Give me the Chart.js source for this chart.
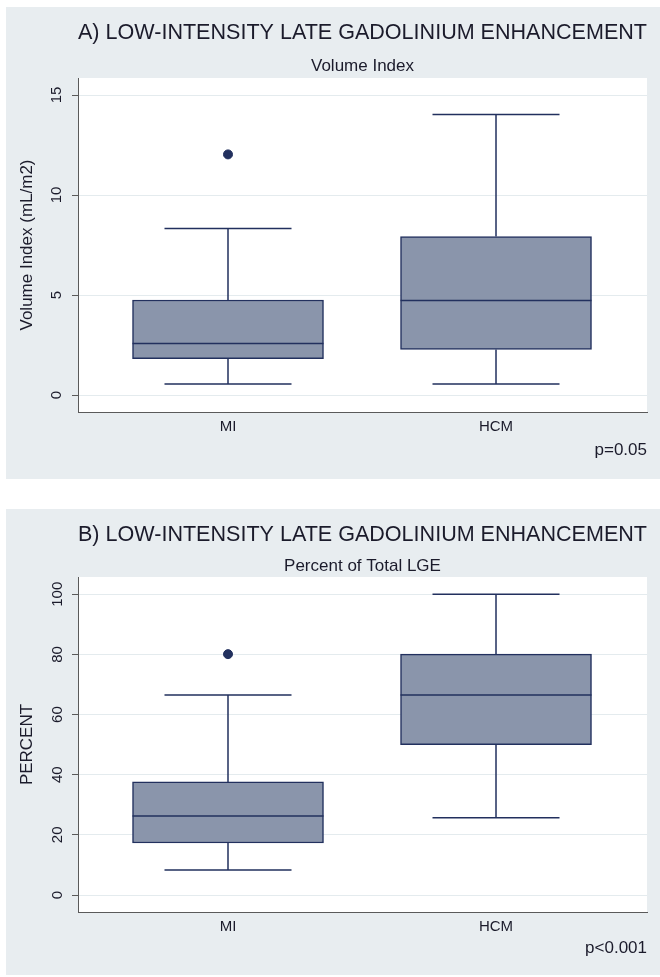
<!DOCTYPE html>
<html lang="en">
<head>
<meta charset="UTF-8">
<title>Low-intensity late gadolinium enhancement</title>
<script src="https://cdn.jsdelivr.net/npm/chart.js"></script>
<style>
  body { margin: 0; background: #fff; width: 660px; height: 977px; }
  .panel { position: absolute; left: 6px; width: 654px; background: #e8edf0; }
  #panelA { top: 7px; height: 472px; }
  #panelB { top: 509px; height: 466px; }
</style>
</head>
<body>
<div class="panel" id="panelA"><canvas id="chartA"></canvas></div>
<div class="panel" id="panelB"><canvas id="chartB"></canvas></div>

<script>
// groups on the x axis
const groups = ['MI', 'HCM'];
const groupPos = [1, 2];

// A) volume index (mL/m2)
const volLow = [0.55, 0.55];
const volQ1 = [1.82, 2.28];
const volMedian = [2.57, 4.73];
const volQ3 = [4.75, 7.92];
const volHigh = [8.32, 14.02];
const volOutliers = [[12.03], []];
const volTicks = [0, 5, 10, 15];

// B) percent of total LGE
const pctLow = [8.3, 25.7];
const pctQ1 = [17.3, 50.0];
const pctMedian = [26.3, 66.5];
const pctQ3 = [37.6, 80.1];
const pctHigh = [66.5, 100];
const pctOutliers = [[80.1], []];
const pctTicks = [0, 20, 40, 60, 80, 100];

const NAVY = '#22305e';
const BOX_FILL = '#8a95ab';
const AXIS = '#5a5a5a';
const GRID = '#e4ebee';
const TEXT = '#1b1b2b';

Chart.defaults.font.family = "'Liberation Sans', Arial, Helvetica, sans-serif";
Chart.defaults.color = TEXT;

// white plot region like Stata's plotregion
const plotBackground = {
    id: 'plotBackground',
    beforeDraw(chart) {
        const {ctx, chartArea: {left, top, width, height}} = chart;
        ctx.save();
        ctx.fillStyle = '#fff';
        ctx.fillRect(left, top, width, height);
        ctx.restore();
    }
};

// whiskers, caps and median drawn on top of the floating bars
const boxWhiskers = {
    id: 'boxWhiskers',
    afterDatasetsDraw(chart, args, opts) {
        const {ctx, scales: {x, y}} = chart;
        const bars = chart.getDatasetMeta(0).data;
        ctx.save();
        ctx.strokeStyle = opts.color;
        ctx.lineWidth = opts.lineWidth;
        groupPos.forEach((p, i) => {
            const cx = x.getPixelForValue(p);
            const half = bars[i].width / 2;
            const cap = half * opts.capRatio;
            const yLow = y.getPixelForValue(opts.low[i]);
            const yQ1 = y.getPixelForValue(opts.q1[i]);
            const yMed = y.getPixelForValue(opts.median[i]);
            const yQ3 = y.getPixelForValue(opts.q3[i]);
            const yHigh = y.getPixelForValue(opts.high[i]);
            ctx.beginPath();
            ctx.moveTo(cx, yQ3); ctx.lineTo(cx, yHigh);
            ctx.moveTo(cx - cap, yHigh); ctx.lineTo(cx + cap, yHigh);
            ctx.moveTo(cx, yQ1); ctx.lineTo(cx, yLow);
            ctx.moveTo(cx - cap, yLow); ctx.lineTo(cx + cap, yLow);
            ctx.moveTo(cx - half, yMed); ctx.lineTo(cx + half, yMed);
            ctx.stroke();
        });
        ctx.restore();
    }
};

function makePanel(canvasId, c) {
    return new Chart(document.getElementById(canvasId), {
        type: 'bar',
        data: {
            datasets: [
                {
                    type: 'bar',
                    data: groupPos.map((p, i) => ({x: p, y: [c.q1[i], c.q3[i]]})),
                    backgroundColor: BOX_FILL,
                    borderColor: NAVY,
                    borderWidth: 1.5,
                    borderSkipped: false,
                    barThickness: 191
                },
                {
                    type: 'scatter',
                    data: c.outliers.flatMap((vals, i) => vals.map(v => ({x: groupPos[i], y: v}))),
                    pointRadius: 4.5,
                    backgroundColor: NAVY,
                    borderColor: NAVY
                }
            ]
        },
        options: {
            responsive: true,
            maintainAspectRatio: false,
            animation: false,
            layout: { padding: { left: 0, right: 13, top: 0, bottom: 0 } },
            plugins: {
                legend: { display: false },
                tooltip: { enabled: false },
                title: {
                    display: true,
                    text: c.title,
                    fullSize: false,
                    color: TEXT,
                    font: { size: 22, weight: 'normal' },
                    padding: { top: 12.8, bottom: 0 }
                },
                subtitle: {
                    display: true,
                    text: c.subtitle,
                    fullSize: false,
                    color: TEXT,
                    font: { size: 17 },
                    padding: { top: c.subPadTop, bottom: c.subPadBottom }
                },
                boxWhiskers: {
                    low: c.low, q1: c.q1, median: c.median, q3: c.q3, high: c.high,
                    color: NAVY, lineWidth: 1.5, capRatio: 0.665
                }
            },
            scales: {
                x: {
                    type: 'linear',
                    offset: false,
                    min: 0.4403,
                    max: 2.5634,
                    afterBuildTicks: s => { s.ticks = groupPos.map(v => ({value: v})); },
                    afterFit: s => { s.height = c.xHeight; },
                    ticks: {
                        callback: v => groups[groupPos.indexOf(v)],
                        font: { size: 15 },
                        color: TEXT,
                        padding: 6,
                        maxRotation: 0
                    },
                    grid: { display: false, drawTicks: false, offset: false },
                    border: { display: true, color: AXIS, width: 1 },
                    title: {
                        display: true,
                        text: c.pText,
                        align: 'end',
                        color: TEXT,
                        font: { size: 17 },
                        padding: { top: 0, bottom: c.pPadBottom }
                    }
                },
                y: {
                    min: c.yMin,
                    max: c.yMax,
                    afterBuildTicks: s => { s.ticks = c.ticks.map(v => ({value: v})); },
                    afterFit: s => { s.width = 72; },
                    ticks: {
                        font: { size: 15 },
                        color: TEXT,
                        minRotation: 90,
                        maxRotation: 90,
                        crossAlign: 'center',
                        padding: c.yTickPad
                    },
                    grid: { color: GRID, tickColor: AXIS, tickLength: 6, lineWidth: 1 },
                    border: { display: true, color: AXIS, width: 1 },
                    title: {
                        display: true,
                        text: c.yTitle,
                        color: TEXT,
                        font: { size: 17 },
                        padding: { top: 10.8, bottom: 0 }
                    }
                }
            }
        },
        plugins: [plotBackground, boxWhiskers]
    });
}

makePanel('chartA', {
    title: 'A) LOW-INTENSITY LATE GADOLINIUM ENHANCEMENT',
    subtitle: 'Volume Index',
    yTitle: 'Volume Index (mL/m2)',
    pText: 'p=0.05',
    low: volLow, q1: volQ1, median: volMedian, q3: volQ3, high: volHigh,
    outliers: volOutliers,
    ticks: volTicks,
    yMin: -0.85, yMax: 15.85,
    subPadTop: 9.6, subPadBottom: 1.8,
    xHeight: 67, pPadBottom: 18.8,
    yTickPad: 6.6
});

makePanel('chartB', {
    title: 'B) LOW-INTENSITY LATE GADOLINIUM ENHANCEMENT',
    subtitle: 'Percent of Total LGE',
    yTitle: 'PERCENT',
    pText: 'p<0.001',
    low: pctLow, q1: pctQ1, median: pctMedian, q3: pctQ3, high: pctHigh,
    outliers: pctOutliers,
    ticks: pctTicks,
    yMin: -5.65, yMax: 105.75,
    subPadTop: 7.6, subPadBottom: 0.8,
    xHeight: 63, pPadBottom: 16.8,
    yTickPad: 1.5
});
</script>
</body>
</html>
